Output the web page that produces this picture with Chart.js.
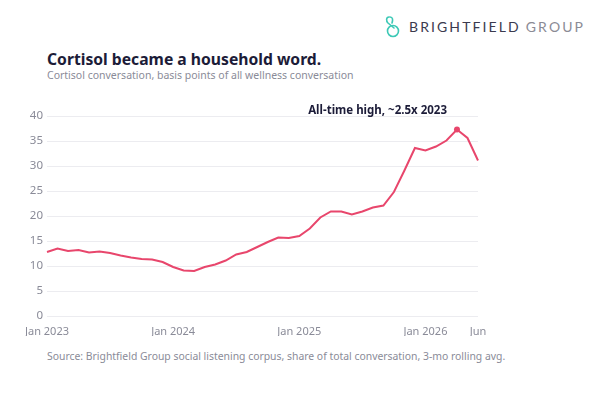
<!DOCTYPE html>
<html>
<head>
<meta charset="utf-8">
<script src="https://cdn.jsdelivr.net/npm/chart.js@4.4.1/dist/chart.umd.min.js"></script>
<style>
  html, body { margin: 0; padding: 0; background: #fff; }
  body { width: 600px; height: 400px; position: relative; overflow: hidden; font-family: 'Noto Sans', sans-serif; }
  .logo { position: absolute; left: 384px; top: 14px; height: 26px; display: flex; align-items: center; white-space: nowrap; }
  .logo span { font-family: 'Lato', sans-serif; font-size: 14px; letter-spacing: 2.1px; line-height: 1; }
  .logo .b { color: #3b3a4e; margin-left: 8px; }
  .logo .g { color: #8b8b95; margin-left: 5px; }
  .title { position: absolute; left: 47px; top: 48px; font-size: 15.7px; font-weight: bold; color: #1c1c38; }
  .sub { position: absolute; left: 47px; top: 68px; font-size: 10.5px; color: #8a8b98; }
  .src { position: absolute; left: 47px; top: 349px; font-size: 10.4px; color: #8a8b98; }
  .wrap { position: absolute; left: 0; top: 100px; width: 600px; height: 240px; }
</style>
</head>
<body>
<div class="logo">
  <svg width="17" height="24" viewBox="0 0 17 24">
    <path d="M5 2 C2 2 2 6 4 8 L10 13" fill="none" stroke="#3cc9b6" stroke-width="1.6" stroke-linecap="round"/>
    <circle cx="9" cy="16" r="5.5" fill="none" stroke="#3cc9b6" stroke-width="1.6"/>
    <path d="M6 2 C9 2 9 5 8 8" fill="none" stroke="#3cc9b6" stroke-width="1.6" stroke-linecap="round"/>
  </svg>
  <span class="b">BRIGHTFIELD</span><span class="g">GROUP</span>
</div>
<div class="title">Cortisol became a household word.</div>
<div class="sub">Cortisol conversation, basis points of all wellness conversation</div>
<div class="src">Source: Brightfield Group social listening corpus, share of total conversation, 3-mo rolling avg.</div>
<div class="wrap"><canvas id="cortisol"></canvas></div>

<script>
const months = [
    'Jan 2023', 'Feb 2023', 'Mar 2023', 'Apr 2023', 'May 2023', 'Jun 2023', 'Jul 2023', 'Aug 2023', 'Sep 2023', 'Oct 2023', 'Nov 2023', 'Dec 2023',
    'Jan 2024', 'Feb 2024', 'Mar 2024', 'Apr 2024', 'May 2024', 'Jun 2024', 'Jul 2024', 'Aug 2024', 'Sep 2024', 'Oct 2024', 'Nov 2024', 'Dec 2024',
    'Jan 2025', 'Feb 2025', 'Mar 2025', 'Apr 2025', 'May 2025', 'Jun 2025', 'Jul 2025', 'Aug 2025', 'Sep 2025', 'Oct 2025', 'Nov 2025', 'Dec 2025',
    'Jan 2026', 'Feb 2026', 'Mar 2026', 'Apr 2026', 'May 2026', 'Jun 2026'
];
const cortisol = [
    12.8, 13.5, 13.0, 13.2, 12.7, 12.9, 12.6, 12.1, 11.7, 11.4, 11.3, 10.8,
    9.8, 9.1, 9.0, 9.8, 10.3, 11.1, 12.3, 12.8, 13.8, 14.8, 15.7, 15.6,
    16.0, 17.5, 19.7, 20.9, 20.9, 20.3, 20.9, 21.7, 22.1, 24.8, 29.1, 33.6,
    33.1, 33.9, 35.1, 37.3, 35.6, 31.1
];
const tickIndex = [0, 12, 24, 36, 41];
const tickText = ['Jan 2023', 'Jan 2024', 'Jan 2025', 'Jan 2026', 'Jun'];
const yTicks = [0, 5, 10, 15, 20, 25, 30, 35, 40];
const note = 'All-time high, ~2.5x 2023';

const lineColor = '#e8466c';
const peak = cortisol.indexOf(Math.max(...cortisol));

// texto de la anotacion sobre el maximo
const notePlugin = {
    id: 'notePlugin',
    afterDatasetsDraw(chart) {
        const pt = chart.getDatasetMeta(0).data[peak];
        const c = chart.ctx;
        c.save();
        c.font = 'bold 11.5px "Noto Sans"';
        c.fillStyle = '#1c1c38';
        c.textAlign = 'right';
        c.textBaseline = 'middle';
        c.fillText(note, pt.x - 10, pt.y - 19);
        c.restore();
    }
};

const ctx = document.getElementById('cortisol').getContext('2d');
const chart = new Chart(ctx, {
    type: 'line',
    data: {
        labels: months,
        datasets: [{
            data: cortisol,
            borderColor: lineColor,
            backgroundColor: lineColor,
            borderWidth: 2,
            tension: 0,
            pointRadius: cortisol.map((v, i) => i === peak ? 3 : 0),
            pointBorderWidth: 0,
            pointHoverRadius: 0
        }]
    },
    options: {
        responsive: true,
        maintainAspectRatio: false,
        animation: false,
        layout: { padding: { left: 8, right: 122, top: 16, bottom: 4 } },
        plugins: {
            legend: { display: false },
            tooltip: { enabled: false }
        },
        scales: {
            x: {
                grid: { display: false },
                border: { display: false },
                afterFit: (s) => { s.height = 20; },
                ticks: {
                    autoSkip: false,
                    maxRotation: 0,
                    padding: 1,
                    color: '#8a8b98',
                    font: { family: 'Noto Sans', size: 11 },
                    callback: (v, i) => {
                        const k = tickIndex.indexOf(i);
                        return k >= 0 ? tickText[k] : '';
                    }
                }
            },
            y: {
                min: 0,
                max: 40,
                afterFit: (s) => { s.width = 39; },
                afterBuildTicks: (s) => { s.ticks = yTicks.map(v => ({ value: v })); },
                grid: { color: '#ececf0', drawTicks: false },
                border: { display: false },
                ticks: {
                    padding: 4,
                    color: '#8a8b98',
                    font: { family: 'Noto Sans', size: 11.5 }
                }
            }
        }
    },
    plugins: [notePlugin]
});
</script>
</body>
</html>
